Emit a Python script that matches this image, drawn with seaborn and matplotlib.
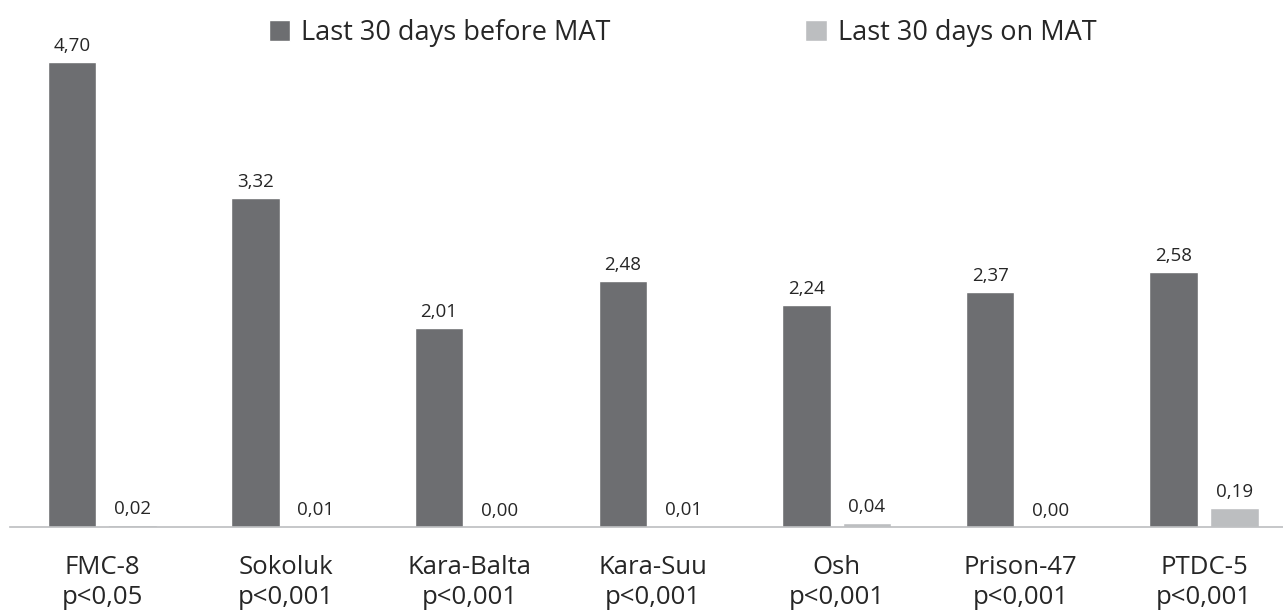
import pandas as pd
import seaborn as sns
import matplotlib.pyplot as plt

# 데이터
sites = ['FMC-8', 'Sokoluk', 'Kara-Balta', 'Kara-Suu', 'Osh', 'Prison-47', 'PTDC-5']
p_values = ['p<0,05', 'p<0,001', 'p<0,001', 'p<0,001', 'p<0,001', 'p<0,001', 'p<0,001']
before_mat = [4.70, 3.32, 2.01, 2.48, 2.24, 2.37, 2.58]
on_mat = [0.02, 0.01, 0.00, 0.01, 0.04, 0.00, 0.19]
series = ['Last 30 days before MAT', 'Last 30 days on MAT']

df = pd.DataFrame({
    'site': sites * 2,
    'period': [series[0]] * len(sites) + [series[1]] * len(sites),
    'value': before_mat + on_mat,
})

sns.set_style('white')
plt.rcParams['font.family'] = ['Open Sans', 'DejaVu Sans']

fig = plt.figure(figsize=(12.83, 6.15), dpi=100)
ax = fig.add_axes([0.008, 0.1431, 0.992, 0.805])

sns.barplot(data=df, x='site', y='value', hue='period', order=sites, hue_order=series,
            palette=['#6d6e71', '#bcbec0'], width=0.66, gap=0.2, saturation=1,
            legend=True, ax=ax)

# 막대 위 값 (소수점 쉼표)
for cont, vals in zip(ax.containers, [before_mat, on_mat]):
    ax.bar_label(cont, labels=[f'{v:.2f}'.replace('.', ',') for v in vals],
                 padding=5, fontsize=13.5)

ax.set_xlim(-0.5, 6.43)
ax.set_ylim(0, 5.0)
ax.set_xlabel('')
ax.set_ylabel('')
ax.set_yticks([])
ax.set_xticks(range(len(sites)))
ax.set_xticklabels([f'{s}\n{p}' for s, p in zip(sites, p_values)], fontsize=18.5, linespacing=1.3)
ax.tick_params(axis='x', length=0, pad=20)
for side in ['top', 'right', 'left']:
    ax.spines[side].set_visible(False)
ax.spines['bottom'].set_color('#bcbec0')
ax.spines['bottom'].set_linewidth(1.2)

handles, labels = ax.get_legend_handles_labels()
ax.get_legend().remove()
fig.legend(handles, labels, loc='center', bbox_to_anchor=(0.532, 0.946), ncol=2,
           frameon=False, fontsize=19.5, handlelength=0.8, handleheight=0.8,
           handletextpad=0.4, columnspacing=7.2)

plt.savefig('out.png', dpi=100)
